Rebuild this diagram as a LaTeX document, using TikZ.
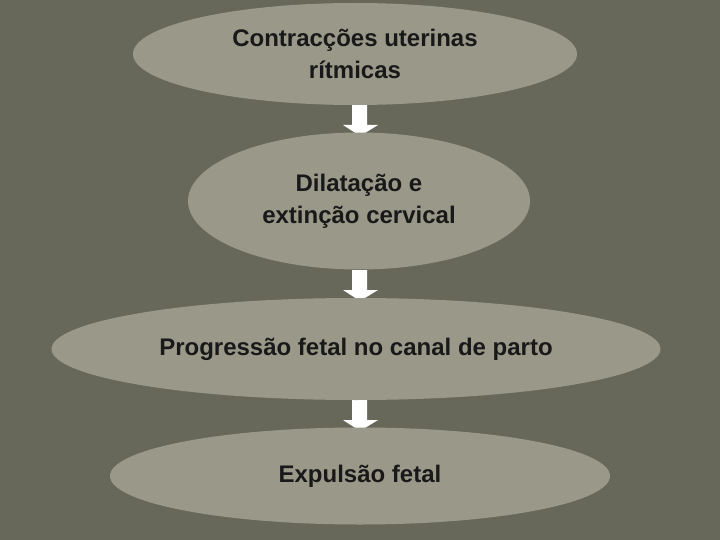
\documentclass[tikz,border=0pt]{standalone}
\usepackage{fontspec}
\setmainfont{Liberation Sans}
\usetikzlibrary{shapes.geometric}
\definecolor{bg}{HTML}{67685A}
\definecolor{ell}{HTML}{9A9989}
\begin{document}
\begin{tikzpicture}[x=1pt,y=-1pt,
  stage/.style={ellipse,fill=ell,inner sep=0pt,align=center,font=\fontsize{24}{32}\selectfont\bfseries,text=black!90}]
\fill[bg] (0,0) rectangle (720,540);
\useasboundingbox (0,0) rectangle (720,540);
\newcommand{\myarrow}[2]{\fill[white] (352,#1) -- (367,#1) -- (367,#1+20) -- (378,#1+20) -- (360,#2) -- (343,#1+20) -- (352,#1+20) -- cycle;}
\myarrow{105}{136}
\myarrow{270}{301}
\myarrow{400}{431}
\node[stage,minimum width=444pt,minimum height=102pt] (a) at (355,54) {Contracções uterinas\\rítmicas};
\node[stage,minimum width=342pt,minimum height=137pt] (b) at (359,201) {Dilatação e\\extinção cervical};
\node[stage,minimum width=609pt,minimum height=102pt] (c) at (356,349) {Progressão fetal no canal de parto};
\node[stage,minimum width=500pt,minimum height=97pt] (d) at (360,476) {Expulsão fetal};
\end{tikzpicture}
\end{document}
